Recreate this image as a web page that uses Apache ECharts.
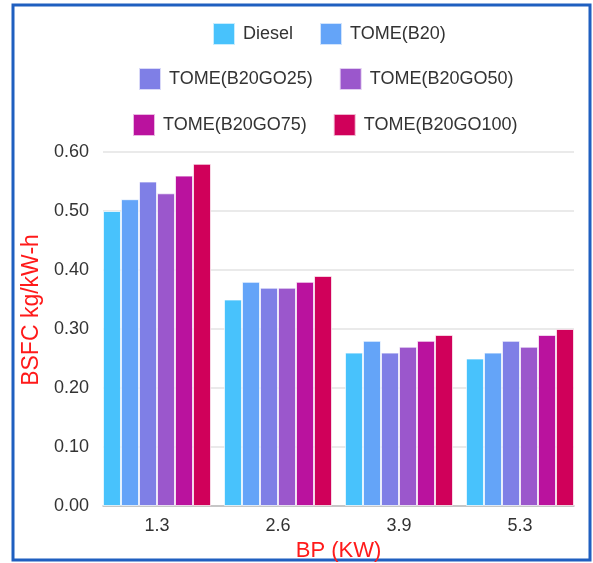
<!DOCTYPE html>
<html lang="en">
<head>
  <meta charset="UTF-8">
  <title>BSFC vs BP</title>
  <style>
    html, body { margin: 0; padding: 0; overflow: hidden; background: #fff; }
    #chart { width: 593px; height: 563px; }
  </style>
</head>
<body>
  <div id="chart"></div>
  <script src="https://cdn.jsdelivr.net/npm/echarts@6/dist/echarts.min.js"></script>
  <script>
    // data
    const categories = ['1.3', '2.6', '3.9', '5.3'];
    const seriesNames = ['Diesel', 'TOME(B20)', 'TOME(B20GO25)', 'TOME(B20GO50)', 'TOME(B20GO75)', 'TOME(B20GO100)'];
    const diesel = [0.50, 0.35, 0.26, 0.25];
    const b20 = [0.52, 0.38, 0.28, 0.26];
    const b20go25 = [0.55, 0.37, 0.26, 0.28];
    const b20go50 = [0.53, 0.37, 0.27, 0.27];
    const b20go75 = [0.56, 0.38, 0.28, 0.29];
    const b20go100 = [0.58, 0.39, 0.29, 0.30];
    const values = [diesel, b20, b20go25, b20go50, b20go75, b20go100];
    const colors = ['#48c2fc', '#64a4f8', '#7f7fe6', '#9b57cc', '#ba129e', '#d0005a'];

    const font = '"Liberation Sans", Arial, sans-serif';
    const chart = echarts.init(document.getElementById('chart'));

    function legendRow(names, left, top) {
      return {
        data: names,
        left: left,
        top: top,
        padding: 0,
        itemWidth: 22,
        itemHeight: 22,
        itemGap: 26,
        icon: 'rect',
        textStyle: { fontFamily: font, fontSize: 18, color: '#333', padding: [0, 0, 0, 3] }
      };
    }

    // grid 0 carries the gridlines and y labels, grid 1 (a bit wider) the bars,
    // so the outer bars sit flush with the ends of the gridlines
    chart.setOption({
      animation: false,
      color: colors,
      legend: [
        legendRow(seriesNames.slice(0, 2), 212, 22),
        legendRow(seriesNames.slice(2, 4), 138, 67),
        legendRow(seriesNames.slice(4, 6), 132, 113)
      ],
      grid: [
        { left: 103, right: 19, top: 152, bottom: 57, outerBoundsMode: 'none' },
        { left: 96.5, right: 12.5, top: 152, bottom: 57, outerBoundsMode: 'none' }
      ],
      xAxis: [{
        type: 'category',
        gridIndex: 0,
        data: categories,
        axisTick: { show: false },
        axisLabel: { show: false },
        axisLine: { lineStyle: { color: '#bbb', width: 1.5 } }
      }, {
        type: 'category',
        gridIndex: 1,
        data: categories,
        name: 'BP (KW)',
        nameLocation: 'middle',
        nameGap: 32,
        nameTextStyle: { fontFamily: font, fontSize: 22, color: '#ff1a1a', padding: [0, 0, 0, 0] },
        axisTick: { show: false },
        axisLine: { show: false },
        axisLabel: { fontFamily: font, fontSize: 18, color: '#333', margin: 11 }
      }],
      yAxis: [{
        type: 'value',
        gridIndex: 0,
        min: 0,
        max: 0.6,
        interval: 0.1,
        name: 'BSFC kg/kW-h',
        nameLocation: 'middle',
        nameGap: 60,
        nameTextStyle: { fontFamily: font, fontSize: 23, color: '#ff1a1a', padding: [0, 0, 0, 38] },
        axisLabel: {
          fontFamily: font, fontSize: 18, color: '#333', margin: 14,
          formatter: v => v.toFixed(2)
        },
        splitLine: { lineStyle: { color: '#e3e3e3', width: 1.5 } }
      }, {
        type: 'value',
        gridIndex: 1,
        min: 0,
        max: 0.6,
        show: false
      }],
      series: seriesNames.map((name, i) => ({
        name: name,
        type: 'bar',
        xAxisIndex: 1,
        yAxisIndex: 1,
        data: values[i],
        barGap: '0%',
        barCategoryGap: '10.7%',
        itemStyle: { borderColor: 'rgba(255,255,255,0.7)', borderWidth: 1 }
      })),
      graphic: [{
        type: 'rect',
        shape: { x: 13, y: 5, width: 577, height: 555 },
        style: { fill: 'none', stroke: '#1f5fc0', lineWidth: 3 },
        silent: true
      }]
    });
  </script>
</body>
</html>
